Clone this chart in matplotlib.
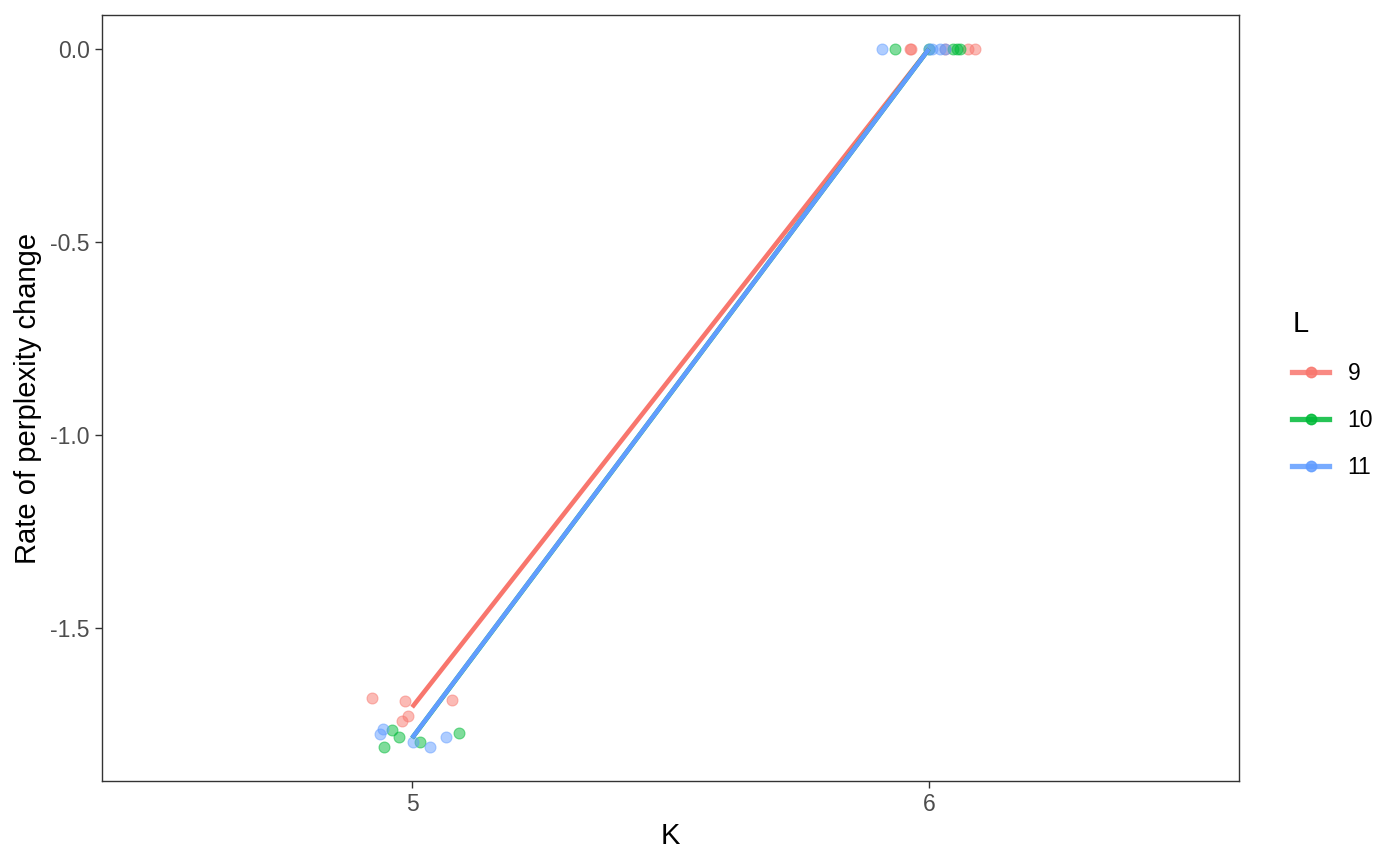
import numpy as np
import matplotlib.pyplot as plt
from matplotlib.lines import Line2D

plt.rcParams["font.family"] = ["Liberation Sans", "DejaVu Sans"]

# jittered K positions and perplexity change rates, per L
levels = ["9", "10", "11"]
colors = ["#F8766D", "#00BA38", "#619CFF"]

k_base = [5, 5, 5, 5, 5, 6, 6, 6, 6, 6]
k_jit = {
    "9": [4.923, 4.986, 5.077, 4.992, 4.980, 5.963, 5.965, 6.031, 6.075, 6.089],
    "10": [4.961, 4.975, 4.945, 5.016, 5.090, 5.934, 6.000, 6.046, 6.054, 6.060],
    "11": [4.943, 4.938, 5.001, 5.035, 5.066, 5.909, 6.000, 6.006, 6.021, 6.031],
}
rate = {
    "9": [-1.681, -1.689, -1.687, -1.728, -1.740, 0, 0, 0, 0, 0],
    "10": [-1.764, -1.783, -1.808, -1.796, -1.773, 0, 0, 0, 0, 0],
    "11": [-1.762, -1.774, -1.795, -1.808, -1.783, 0, 0, 0, 0, 0],
}
k_ticks = [5, 6]
y_ticks = [0.0, -0.5, -1.0, -1.5]

fig = plt.figure(figsize=(14, 8.66), dpi=100)
ax = fig.add_axes([0.0729, 0.0982, 0.8121, 0.8845])

for lv, col in zip(levels, colors):
    kb = np.array(k_base)
    r = np.array(rate[lv])
    ks = np.unique(kb)
    means = [r[kb == k].mean() for k in ks]
    ax.scatter(k_jit[lv], r, s=62, color=col, alpha=0.5, edgecolors=col,
               linewidths=0.8, zorder=2)
    ax.plot(ks, means, color=col, lw=3.3, solid_capstyle="butt", zorder=3)

ax.set_xlim(4.4, 6.6)
ax.set_ylim(-1.896, 0.088)
ax.set_xticks(k_ticks)
ax.set_xticklabels([str(k) for k in k_ticks])
ax.set_yticks(y_ticks)
ax.set_yticklabels([f"{v:.1f}" for v in y_ticks])
ax.tick_params(direction="out", length=5, width=1, color="#333333",
               labelcolor="#4D4D4D", labelsize=16.5, pad=4)
for sp in ax.spines.values():
    sp.set_color("#333333")
    sp.set_linewidth(1)
ax.set_xlabel("K", fontsize=21, labelpad=4)
ax.set_ylabel("Rate of perplexity change", fontsize=21, labelpad=6)

handles = []
for col in colors:
    handles.append(Line2D([], [], color=col, lw=3.8, marker="o", markersize=7.5,
                          markerfacecolor=col, markeredgecolor=col, alpha=0.85))
leg = fig.legend(handles, levels, title="L", loc="upper left",
                 bbox_to_anchor=(0.9084, 0.6663), frameon=False, fontsize=16.5,
                 title_fontsize=21, handlelength=1.6, labelspacing=1.05,
                 handletextpad=0.8)
leg._legend_box.align = "left"

fig.savefig("out.png", dpi=100)
